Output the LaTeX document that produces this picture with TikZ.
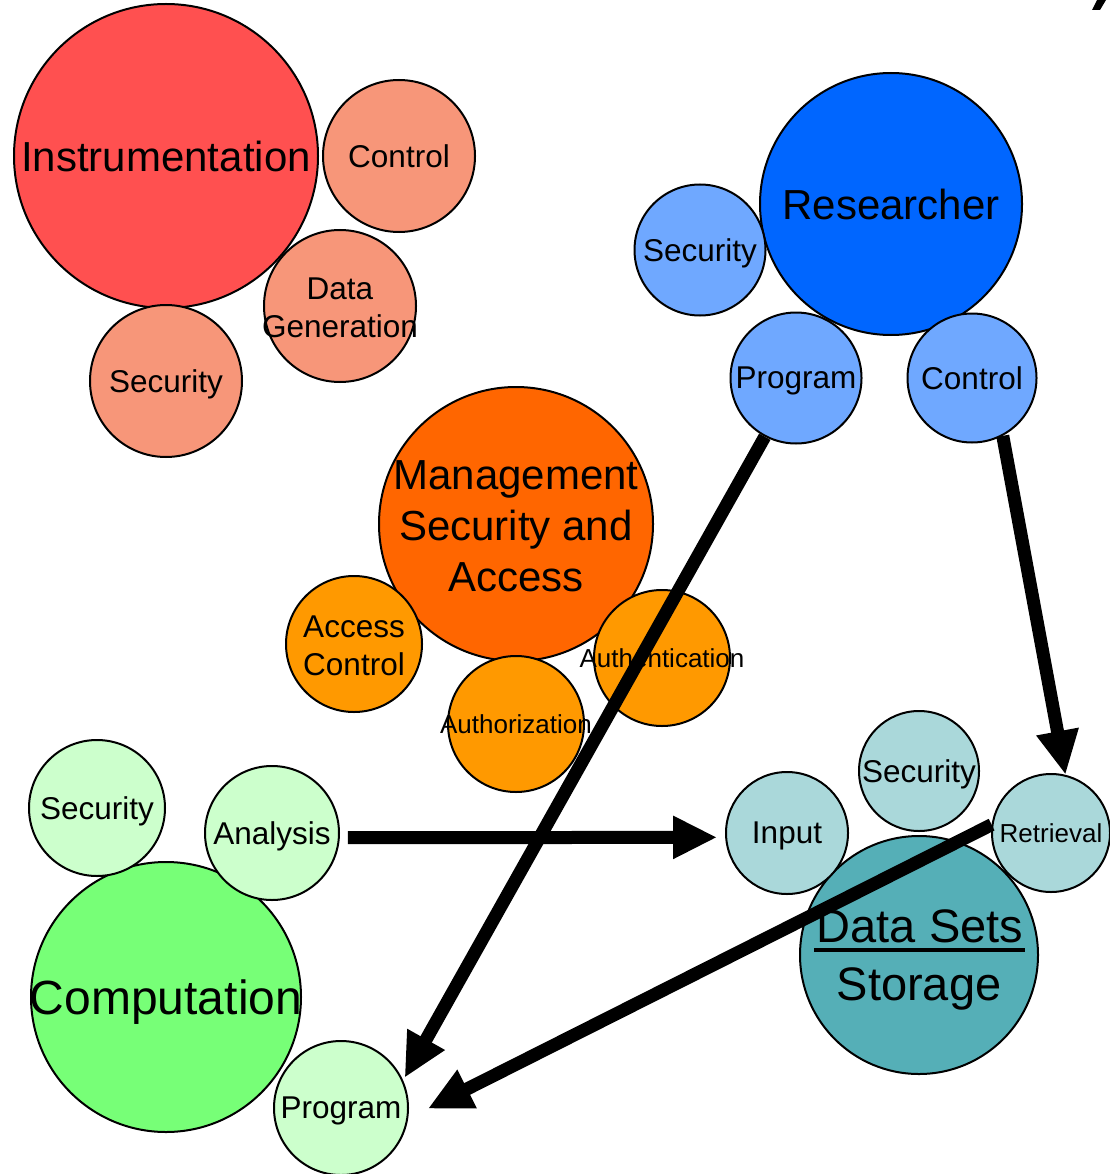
\documentclass[tikz,border=0pt]{standalone}
\usepackage{fontspec}
\setmainfont{Liberation Sans}
\usetikzlibrary{arrows.meta}
\definecolor{cInstr}{HTML}{FF5050}
\definecolor{cSalmon}{HTML}{F79679}
\definecolor{cRes}{HTML}{0066FF}
\definecolor{cLBlue}{HTML}{6FA8FF}
\definecolor{cMgmt}{HTML}{FF6600}
\definecolor{cOrange}{HTML}{FF9900}
\definecolor{cComp}{HTML}{77FF77}
\definecolor{cLGreen}{HTML}{CCFFCC}
\definecolor{cData}{HTML}{55AFB7}
\definecolor{cLTeal}{HTML}{AAD8DA}
\tikzset{
  circ/.style={circle, draw=black, line width=2pt, inner sep=0pt},
  txt/.style={inner sep=0pt, align=center, yshift=-2pt},
  one/.style={inner sep=0pt, align=center, text depth=0pt},
  bigf/.style={font=\fontsize{42}{51}\selectfont},
  compf/.style={font=\fontsize{48}{56}\selectfont},
  dataf/.style={font=\fontsize{47}{50}\selectfont},
  midf/.style={font=\fontsize{31.5}{38}\selectfont},
  smallf/.style={font=\fontsize{26}{31}\selectfont},
  conn/.style={line width=13pt, -{Triangle[length=44pt,width=40pt]}},
}
\begin{document}
\begin{tikzpicture}[x=1pt,y=-1pt]
\useasboundingbox (0,0) rectangle (1109,1174);

% fragment of cropped title at top right
\fill[black] (1092,10) -- (1100,10) -- (1106,0) -- (1097,0) -- cycle;

% Instrumentation group
\node[circ, fill=cInstr, minimum size=304pt] (instr) at (166,156) {};
\node[circ, fill=cSalmon, minimum size=152pt] (ictrl) at (399,156) {};
\node[circ, fill=cSalmon, minimum size=152pt] (igen) at (340,306) {};
\node[circ, fill=cSalmon, minimum size=152pt] (isec) at (166,381) {};
\node[one, bigf] (instr-t) at (instr) {Instrumentation};
\node[one, midf] (ictrl-t) at (ictrl) {Control};
\node[txt, midf] (igen-t) at (igen) {Data\\Generation};
\node[one, midf] (isec-t) at (isec) {Security};

% Researcher group
\node[circ, fill=cRes, minimum size=262pt] (res) at (891,204) {};
\node[circ, fill=cLBlue, minimum size=131pt] (rsec) at (700,250) {};
\node[circ, fill=cLBlue, minimum size=131pt] (rprog) at (796,378) {};
\node[circ, fill=cLBlue, minimum size=129pt] (rctrl) at (972,378) {};
\node[one, bigf] (res-t) at (res) {Researcher};
\node[one, midf] (rsec-t) at (rsec) {Security};
\node[one, midf] (rprog-t) at (rprog) {Program};
\node[one, midf] (rctrl-t) at (rctrl) {Control};

% Management group
\node[circ, fill=cMgmt, minimum size=274pt] (mgmt) at (516,524) {};
\node[circ, fill=cOrange, minimum size=136pt] (macc) at (354,644) {};
\node[circ, fill=cOrange, minimum size=136pt] (mauthn) at (662,658) {};
\node[circ, fill=cOrange, minimum size=136pt] (mauthz) at (516,724) {};
\node[txt, bigf] (mgmt-t) at (mgmt) {Management\\Security and\\Access};
\node[txt, midf] (macc-t) at (macc) {Access\\Control};
\node[one, smallf] (mauthn-t) at (mauthn) {Authentication};
\node[one, smallf] (mauthz-t) at (mauthz) {Authorization};

% Computation group
\node[circ, fill=cComp, minimum size=270pt] (comp) at (166,997) {};
\node[circ, fill=cLGreen, minimum size=136pt] (csec) at (97,808) {};
\node[circ, fill=cLGreen, minimum size=134pt] (cana) at (272,833) {};
\node[circ, fill=cLGreen, minimum size=134pt] (cprog) at (341,1108) {};
\node[one, compf] (comp-t) at (comp) {Computation};
\node[one, midf] (csec-t) at (csec) {Security};
\node[one, midf] (cana-t) at (cana) {Analysis};
\node[one, midf] (cprog-t) at (cprog) {Program};

% Data Sets group
\node[circ, fill=cData, minimum size=238pt] (data) at (919,955) {};
\node[circ, fill=cLTeal, minimum size=122pt] (dinp) at (787,833) {};
\node[circ, fill=cLTeal, minimum size=120pt] (dsec) at (919,771) {};
\node[circ, fill=cLTeal, minimum size=118pt] (dret) at (1051,833) {};
\node[inner sep=0pt, anchor=base, dataf] (data-t1) at (920,942) {Data Sets};
\node[inner sep=0pt, anchor=base, dataf] (data-t2) at (919,1000) {Storage};
\draw[line width=3.5pt] (814,950) -- (1025,950);
\node[one, midf] (dinp-t) at (dinp) {Input};
\node[one, midf] (dsec-t) at (dsec) {Security};
\node[one, smallf] (dret-t) at (dret) {Retrieval};

% connectors
\draw[conn, shorten >=3pt] (rprog.-118) -- (cprog.24);
\draw[conn] (rctrl.-62) -- (dret.76);
\draw[conn, shorten <=8pt, shorten >=8pt] (cana.-4) -- (dinp.184);
\draw[conn, shorten >=22pt] (dret.172) -- (cprog.-9);
\end{tikzpicture}
\end{document}
